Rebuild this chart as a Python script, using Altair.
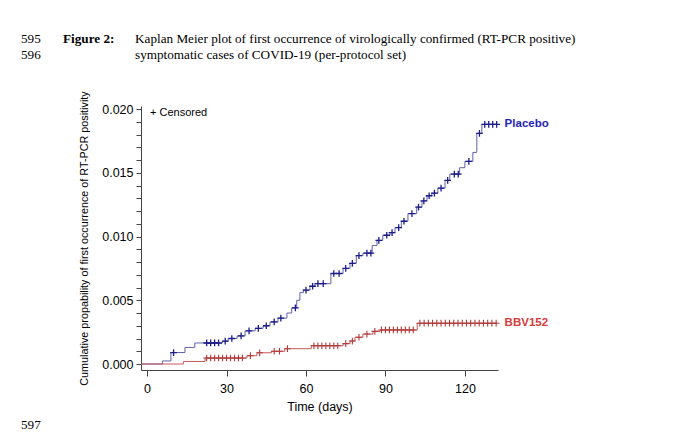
import altair as alt
import pandas as pd
from bisect import bisect_right

# ---- data ----
placebo_t = [-2.2, 5.8, 9, 14.3, 18, 28.5, 30.6, 34, 37, 40.8, 43.8, 46.4, 49.4, 52.8, 54.6,
             56.5, 57.7, 59, 61.5, 63.4, 69.4, 74, 76.6, 79, 81.5, 85, 86.8, 89, 91.7, 93.6,
             96, 98.5, 101.8, 103.8, 105.7, 107.5, 109.8, 112.5, 114.3, 118, 120, 123, 124.5,
             126.4, 132]
placebo_v = [0, 0.00024, 0.0009, 0.0013, 0.00165, 0.0018, 0.002, 0.0022, 0.0026, 0.0028,
             0.003, 0.0033, 0.0036, 0.004, 0.0044, 0.005, 0.0056, 0.0058, 0.0061, 0.0063,
             0.0071, 0.0075, 0.0079, 0.0085, 0.0087, 0.0093, 0.0097, 0.0101, 0.0103, 0.0107,
             0.0112, 0.0118, 0.0123, 0.0128, 0.0132, 0.0134, 0.0138, 0.0144, 0.0149, 0.0154,
             0.0159, 0.0166, 0.0181, 0.0188, 0.0188]
placebo_cens = [10, 22.5, 24, 25.5, 27, 29.5, 32, 35.5, 38.5, 42, 45, 48, 50.5, 56, 60, 62.5,
                64.5, 66.5, 70.5, 72.5, 75, 77.5, 80, 83, 84.5, 87.5, 90.5, 92.5, 95, 97,
                100, 102.5, 104.5, 106.5, 108.5, 111, 113.5, 116, 117.5, 121.5, 125.5, 127.5,
                129, 130.5, 132]

bbv_t = [-2.2, 13.7, 21.9, 37.7, 41.5, 47, 52, 62, 74, 76.6, 78.5, 81.5, 85.3, 88, 102, 132]
bbv_v = [0, 0.0002, 0.00047, 0.00065, 0.00088, 0.001, 0.0012, 0.00143, 0.0016, 0.0018,
         0.0021, 0.00235, 0.00256, 0.00267, 0.0032, 0.0032]
bbv_cens = [22.5, 24, 25.5, 27, 28.5, 30, 31.5, 33, 34.5, 36, 39, 42.5, 48, 50, 53, 63, 64.5,
            66, 67.5, 69, 70.5, 72, 75, 77.5, 80, 83, 86, 88.5, 90, 91.5, 93, 94.5, 96, 97.5,
            99, 100.5, 103, 104.6, 106.2, 107.8, 109.4, 111, 112.6, 114.2, 115.8, 117.4, 119,
            120.6, 122.2, 123.8, 125.4, 127, 128.6, 130.2, 131.8]

x_ticks = [0, 30, 60, 90, 120]
y_ticks = [0.000, 0.001, 0.002, 0.003, 0.004, 0.005, 0.006, 0.007, 0.008, 0.009, 0.010,
           0.011, 0.012, 0.013, 0.014, 0.015, 0.016, 0.017, 0.018, 0.019, 0.020]

header1 = "Kaplan Meier plot of first occurrence of virologically confirmed (RT-PCR positive)"
header2 = "symptomatic cases of COVID-19 (per-protocol set)"


def step_value(ts, vs, t):
    i = bisect_right(ts, t) - 1
    return vs[max(i, 0)]


lines = pd.DataFrame(
    [{"group": "Placebo", "day": t, "value": v} for t, v in zip(placebo_t, placebo_v)]
    + [{"group": "BBV152", "day": t, "value": v} for t, v in zip(bbv_t, bbv_v)]
)
cens_p = pd.DataFrame({"day": placebo_cens,
                       "value": [step_value(placebo_t, placebo_v, t) for t in placebo_cens]})
cens_b = pd.DataFrame({"day": bbv_cens,
                       "value": [step_value(bbv_t, bbv_v, t) for t in bbv_cens]})
labels = pd.DataFrame({"group": ["Placebo", "BBV152"],
                       "day": [135, 135],
                       "value": [placebo_v[-1], bbv_v[-1]]})

W, H = 357, 264
xscale = alt.Scale(domain=[-2.3, 132.5], nice=False, zero=False)
yscale = alt.Scale(domain=[-0.00047, 0.02024], nice=False, zero=False)

xenc = alt.X("day:Q", scale=xscale,
             axis=alt.Axis(values=x_ticks, title="Time (days)", grid=False,
                           labelFont="Liberation Sans", labelFontSize=12.5,
                           labelColor="black", titleFont="Liberation Sans",
                           titleFontSize=12.5, titleFontWeight="normal", titleColor="black",
                           tickSize=6, labelPadding=6, titlePadding=6,
                           domainColor="#444444", tickColor="#444444"))
yenc = alt.Y("value:Q", scale=yscale,
             axis=alt.Axis(values=y_ticks, grid=False, labelOverlap=False, labelFlush=False,
                           labelExpr="round(datum.value*1000) % 5 == 0 ? format(datum.value, '.3f') : ''",
                           title="Cumulative propability of first occurrence of RT-PCR positivity",
                           labelFont="Liberation Sans", labelFontSize=12.5, labelColor="black",
                           titleFont="Liberation Sans", titleFontSize=10.8,
                           titleFontWeight="normal", titleColor="black",
                           tickSize=5, labelPadding=3, titlePadding=12,
                           domainColor="#444444", tickColor="#444444"))

step_lines = alt.Chart(lines).mark_line(interpolate="step-after", strokeWidth=1).encode(
    x=xenc, y=yenc,
    color=alt.Color("group:N", scale=alt.Scale(domain=["Placebo", "BBV152"],
                                               range=["#6262a8", "#c25a5a"]), legend=None),
    order=alt.Order("day:Q"),
)

cross = "M-1,0L1,0M0,-1L0,1"
pts_p = alt.Chart(cens_p).mark_point(shape=cross, filled=False, strokeWidth=1.3,
                                     size=45, color="#1c1c8a", opacity=1).encode(
    x=xenc, y=yenc)
pts_b = alt.Chart(cens_b).mark_point(shape=cross, filled=False, strokeWidth=1.1,
                                     size=45, color="#b03a3a", opacity=1).encode(
    x=xenc, y=yenc)

lab = alt.Chart(labels).mark_text(align="left", baseline="middle", font="Liberation Sans",
                                  fontSize=11.5, fontWeight="bold").encode(
    x=xenc, y=yenc, text="group:N",
    color=alt.Color("group:N", scale=alt.Scale(domain=["Placebo", "BBV152"],
                                               range=["#2424b8", "#d63a3a"]), legend=None),
)


def note(text, x, y, size, font="Liberation Serif", weight="normal", align="left"):
    return alt.Chart(pd.DataFrame({"t": [text]})).mark_text(
        align=align, baseline="alphabetic", font=font, fontSize=size,
        fontWeight=weight, color="black").encode(
        x=alt.value(x), y=alt.value(y), text="t:N")


PL, PT = 141, 106
notes = [
    note("595", 21 - PL, 43 - PT, 13.2),
    note("Figure 2:", 63 - PL, 43 - PT, 13.2, weight="bold"),
    note(header1, 135 - PL, 43 - PT, 13.2),
    note("596", 21 - PL, 59 - PT, 13.2),
    note(header2, 135 - PL, 59 - PT, 13.2),
    note("597", 21 - PL, 429 - PT, 13.2),
    note("+ Censored", 150 - PL, 116 - PT, 11, font="Liberation Sans"),
]

chart = alt.layer(step_lines, pts_p, pts_b, lab, *notes).resolve_scale(
    color="independent"
).properties(
    width=W, height=H,
    autosize=alt.AutoSizeParams(type="none"),
    padding={"left": PL, "top": PT, "right": 680 - PL - W, "bottom": 441 - PT - H},
    background="white",
).configure_view(stroke=None)

chart.save("out.html", embed_options={"renderer": "svg", "actions": False})
